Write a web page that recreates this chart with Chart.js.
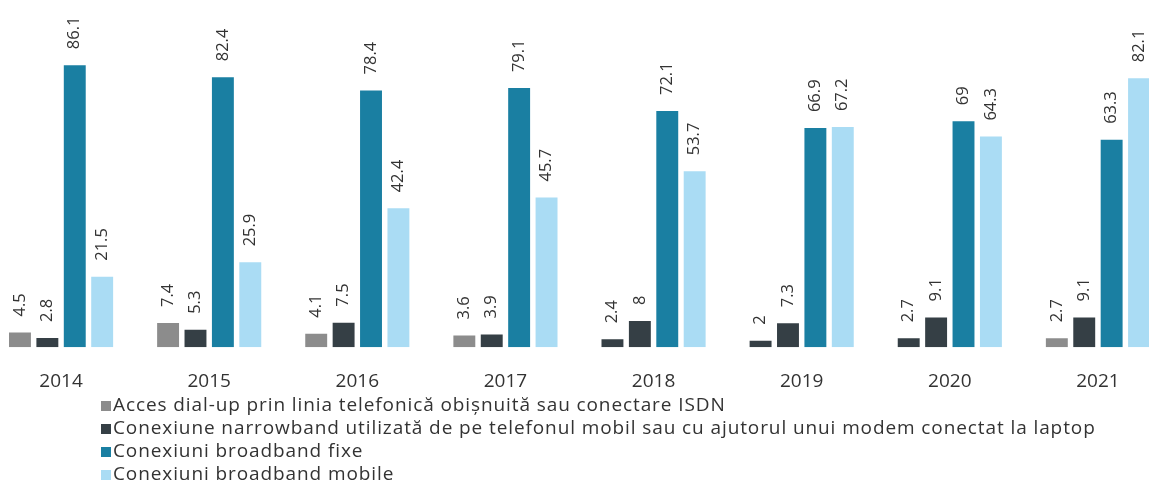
<!DOCTYPE html>
<html>
<head>
<meta charset="utf-8">
<script src="https://cdn.jsdelivr.net/npm/chart.js@4/dist/chart.umd.min.js"></script>
<style>
  html, body { margin: 0; padding: 0; background: #fff; overflow: hidden; }
  #wrap { position: absolute; left: -13px; top: 0; width: 1185px; height: 501px; }
</style>
</head>
<body>
<div id="wrap"><canvas id="chart" width="1185" height="501"></canvas></div>
<script>
// years on the x axis
var years = ['2014', '2015', '2016', '2017', '2018', '2019', '2020', '2021'];

// percentages per connection type
var dialUp = [4.5, 7.4, 4.1, 3.6, 2.4, 2, 2.7, 2.7];
var narrowband = [2.8, 5.3, 7.5, 3.9, 8, 7.3, 9.1, 9.1];
var broadbandFixed = [86.1, 82.4, 78.4, 79.1, 72.1, 66.9, 69, 63.3];
var broadbandMobile = [21.5, 25.9, 42.4, 45.7, 53.7, 67.2, 64.3, 82.1];

var seriesNames = [
    'Acces dial-up prin linia telefonică obișnuită sau conectare ISDN',
    'Conexiune narrowband utilizată de pe telefonul mobil sau cu ajutorul unui modem conectat la laptop',
    'Conexiuni broadband fixe',
    'Conexiuni broadband mobile'
];

var GRAY = '#8c8c8c', DARK = '#353f45', TEAL = '#1a7fa2', LIGHT = '#aadcf4';
var FONT = "'Open Sans', sans-serif";

// dial-up bars for 2018-2020 come out in the darker shade
var dialUpColors = [GRAY, GRAY, GRAY, GRAY, DARK, DARK, DARK, GRAY];

// rotated value labels above each bar
var valueLabels = {
    id: 'valueLabels',
    afterDatasetsDraw: function(chart) {
        var ctx = chart.ctx;
        ctx.save();
        ctx.font = '16.5px ' + FONT;
        ctx.fillStyle = '#333';
        ctx.textAlign = 'left';
        ctx.textBaseline = 'middle';
        chart.data.datasets.forEach(function(ds, i) {
            chart.getDatasetMeta(i).data.forEach(function(bar, j) {
                ctx.save();
                ctx.translate(bar.x, bar.y - 16);
                ctx.rotate(-Math.PI / 2);
                ctx.fillText(String(ds.data[j]), 0, 0);
                ctx.restore();
            });
        });
        ctx.restore();
    }
};

// one legend entry per line under the axis
var stackedLegend = {
    id: 'stackedLegend',
    afterDraw: function(chart) {
        var ctx = chart.ctx;
        ctx.save();
        ctx.font = '19px ' + FONT;
        ctx.letterSpacing = '0.9px';
        ctx.textBaseline = 'middle';
        chart.data.datasets.forEach(function(ds, i) {
            var y = 406 + i * 23;
            ctx.fillStyle = ds.legendColor;
            ctx.fillRect(114, y - 5, 10, 10);
            ctx.fillStyle = '#333';
            ctx.fillText(ds.label, 126, y);
        });
        ctx.restore();
    }
};

new Chart(document.getElementById('chart').getContext('2d'), {
    type: 'bar',
    data: {
        labels: years,
        datasets: [
            { label: seriesNames[0], data: dialUp, backgroundColor: dialUpColors, legendColor: GRAY },
            { label: seriesNames[1], data: narrowband, backgroundColor: DARK, legendColor: DARK },
            { label: seriesNames[2], data: broadbandFixed, backgroundColor: TEAL, legendColor: TEAL },
            { label: seriesNames[3], data: broadbandMobile, backgroundColor: LIGHT, legendColor: LIGHT }
        ]
    },
    options: {
        responsive: false,
        animation: false,
        layout: { padding: { top: 0, bottom: 85, left: 0, right: 0 } },
        datasets: { bar: { categoryPercentage: 0.74, barPercentage: 0.8 } },
        plugins: {
            legend: { display: false },
            tooltip: { enabled: false }
        },
        scales: {
            x: {
                grid: { display: false, drawTicks: false },
                border: { display: false },
                ticks: { color: '#333', font: { family: FONT, size: 19 }, padding: 23 }
            },
            y: { display: false, min: 0, max: 106 }
        }
    },
    plugins: [valueLabels, stackedLegend]
});
</script>
</body>
</html>
